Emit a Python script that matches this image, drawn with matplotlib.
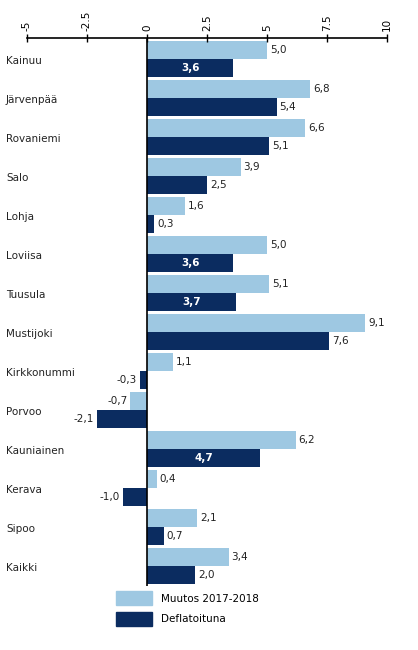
import matplotlib.pyplot as plt
from matplotlib.patches import Patch
from matplotlib.transforms import blended_transform_factory
import numpy as np

# data
regions = ['Kainuu', 'Järvenpää', 'Rovaniemi', 'Salo', 'Lohja', 'Loviisa', 'Tuusula',
           'Mustijoki', 'Kirkkonummi', 'Porvoo', 'Kauniainen', 'Kerava', 'Sipoo', 'Kaikki']
muutos = [5.0, 6.8, 6.6, 3.9, 1.6, 5.0, 5.1, 9.1, 1.1, -0.7, 6.2, 0.4, 2.1, 3.4]
deflatoitu = [3.6, 5.4, 5.1, 2.5, 0.3, 3.6, 3.7, 7.6, -0.3, -2.1, 4.7, -1.0, 0.7, 2.0]
ticks = [-5, -2.5, 0, 2.5, 5, 7.5, 10]
series_names = ['Muutos 2017-2018', 'Deflatoituna']

light = '#9ec8e2'
dark = '#0b2c60'

fig = plt.figure(figsize=(4.18, 6.5), dpi=100)
ax = fig.add_axes([27 / 418, 64.5 / 650, 360 / 418, 547.5 / 650])

y = np.arange(len(regions))
h = 0.46
ax.barh(y - h / 2, muutos, height=h, color=light)
ax.barh(y + h / 2, deflatoitu, height=h, color=dark)

def fmt(v):
    return f'{v:.1f}'.replace('.', ',')

fs = 7.5
lab_tr = blended_transform_factory(fig.transFigure, ax.transData)
for i, (a, b) in enumerate(zip(muutos, deflatoitu)):
    for v, yy in ((a, i - h / 2), (b, i + h / 2)):
        inside = (yy > i) and 3.5 < v < 5
        if inside:
            ax.text(v / 2, yy, fmt(v), color='white', fontweight='bold',
                    ha='center', va='center', fontsize=fs)
        elif v >= 0:
            ax.text(v + 0.12, yy, fmt(v), color='#222222', ha='left', va='center', fontsize=fs)
        else:
            ax.text(v - 0.12, yy, fmt(v), color='#222222', ha='right', va='center', fontsize=fs)
    ax.text(6 / 418, i + 0.05, regions[i], transform=lab_tr, ha='left', va='center',
            fontsize=fs, color='#222222')

ax.axvline(0, color='black', lw=1.2)
ax.set_xlim(-5, 10)
ax.set_ylim(13.5, -0.54)
ax.set_yticks([])
ax.set_xticks(ticks)
ax.set_xticklabels([str(t) for t in ticks], rotation=90, fontsize=fs)
ax.xaxis.tick_top()
ax.tick_params(axis='x', direction='inout', length=6, width=1, pad=2, colors='black')
for s in ['bottom', 'left', 'right']:
    ax.spines[s].set_visible(False)
ax.spines['top'].set_linewidth(1.2)

handles = [Patch(color=light), Patch(color=dark)]
fig.legend(handles, series_names, loc='upper left', bbox_to_anchor=(116 / 418, 59 / 650),
           frameon=False, borderpad=0, borderaxespad=0, fontsize=fs,
           handlelength=3.5, handleheight=1.75, handletextpad=0.8, labelspacing=0.6)

fig.savefig('out.png', dpi=100)
